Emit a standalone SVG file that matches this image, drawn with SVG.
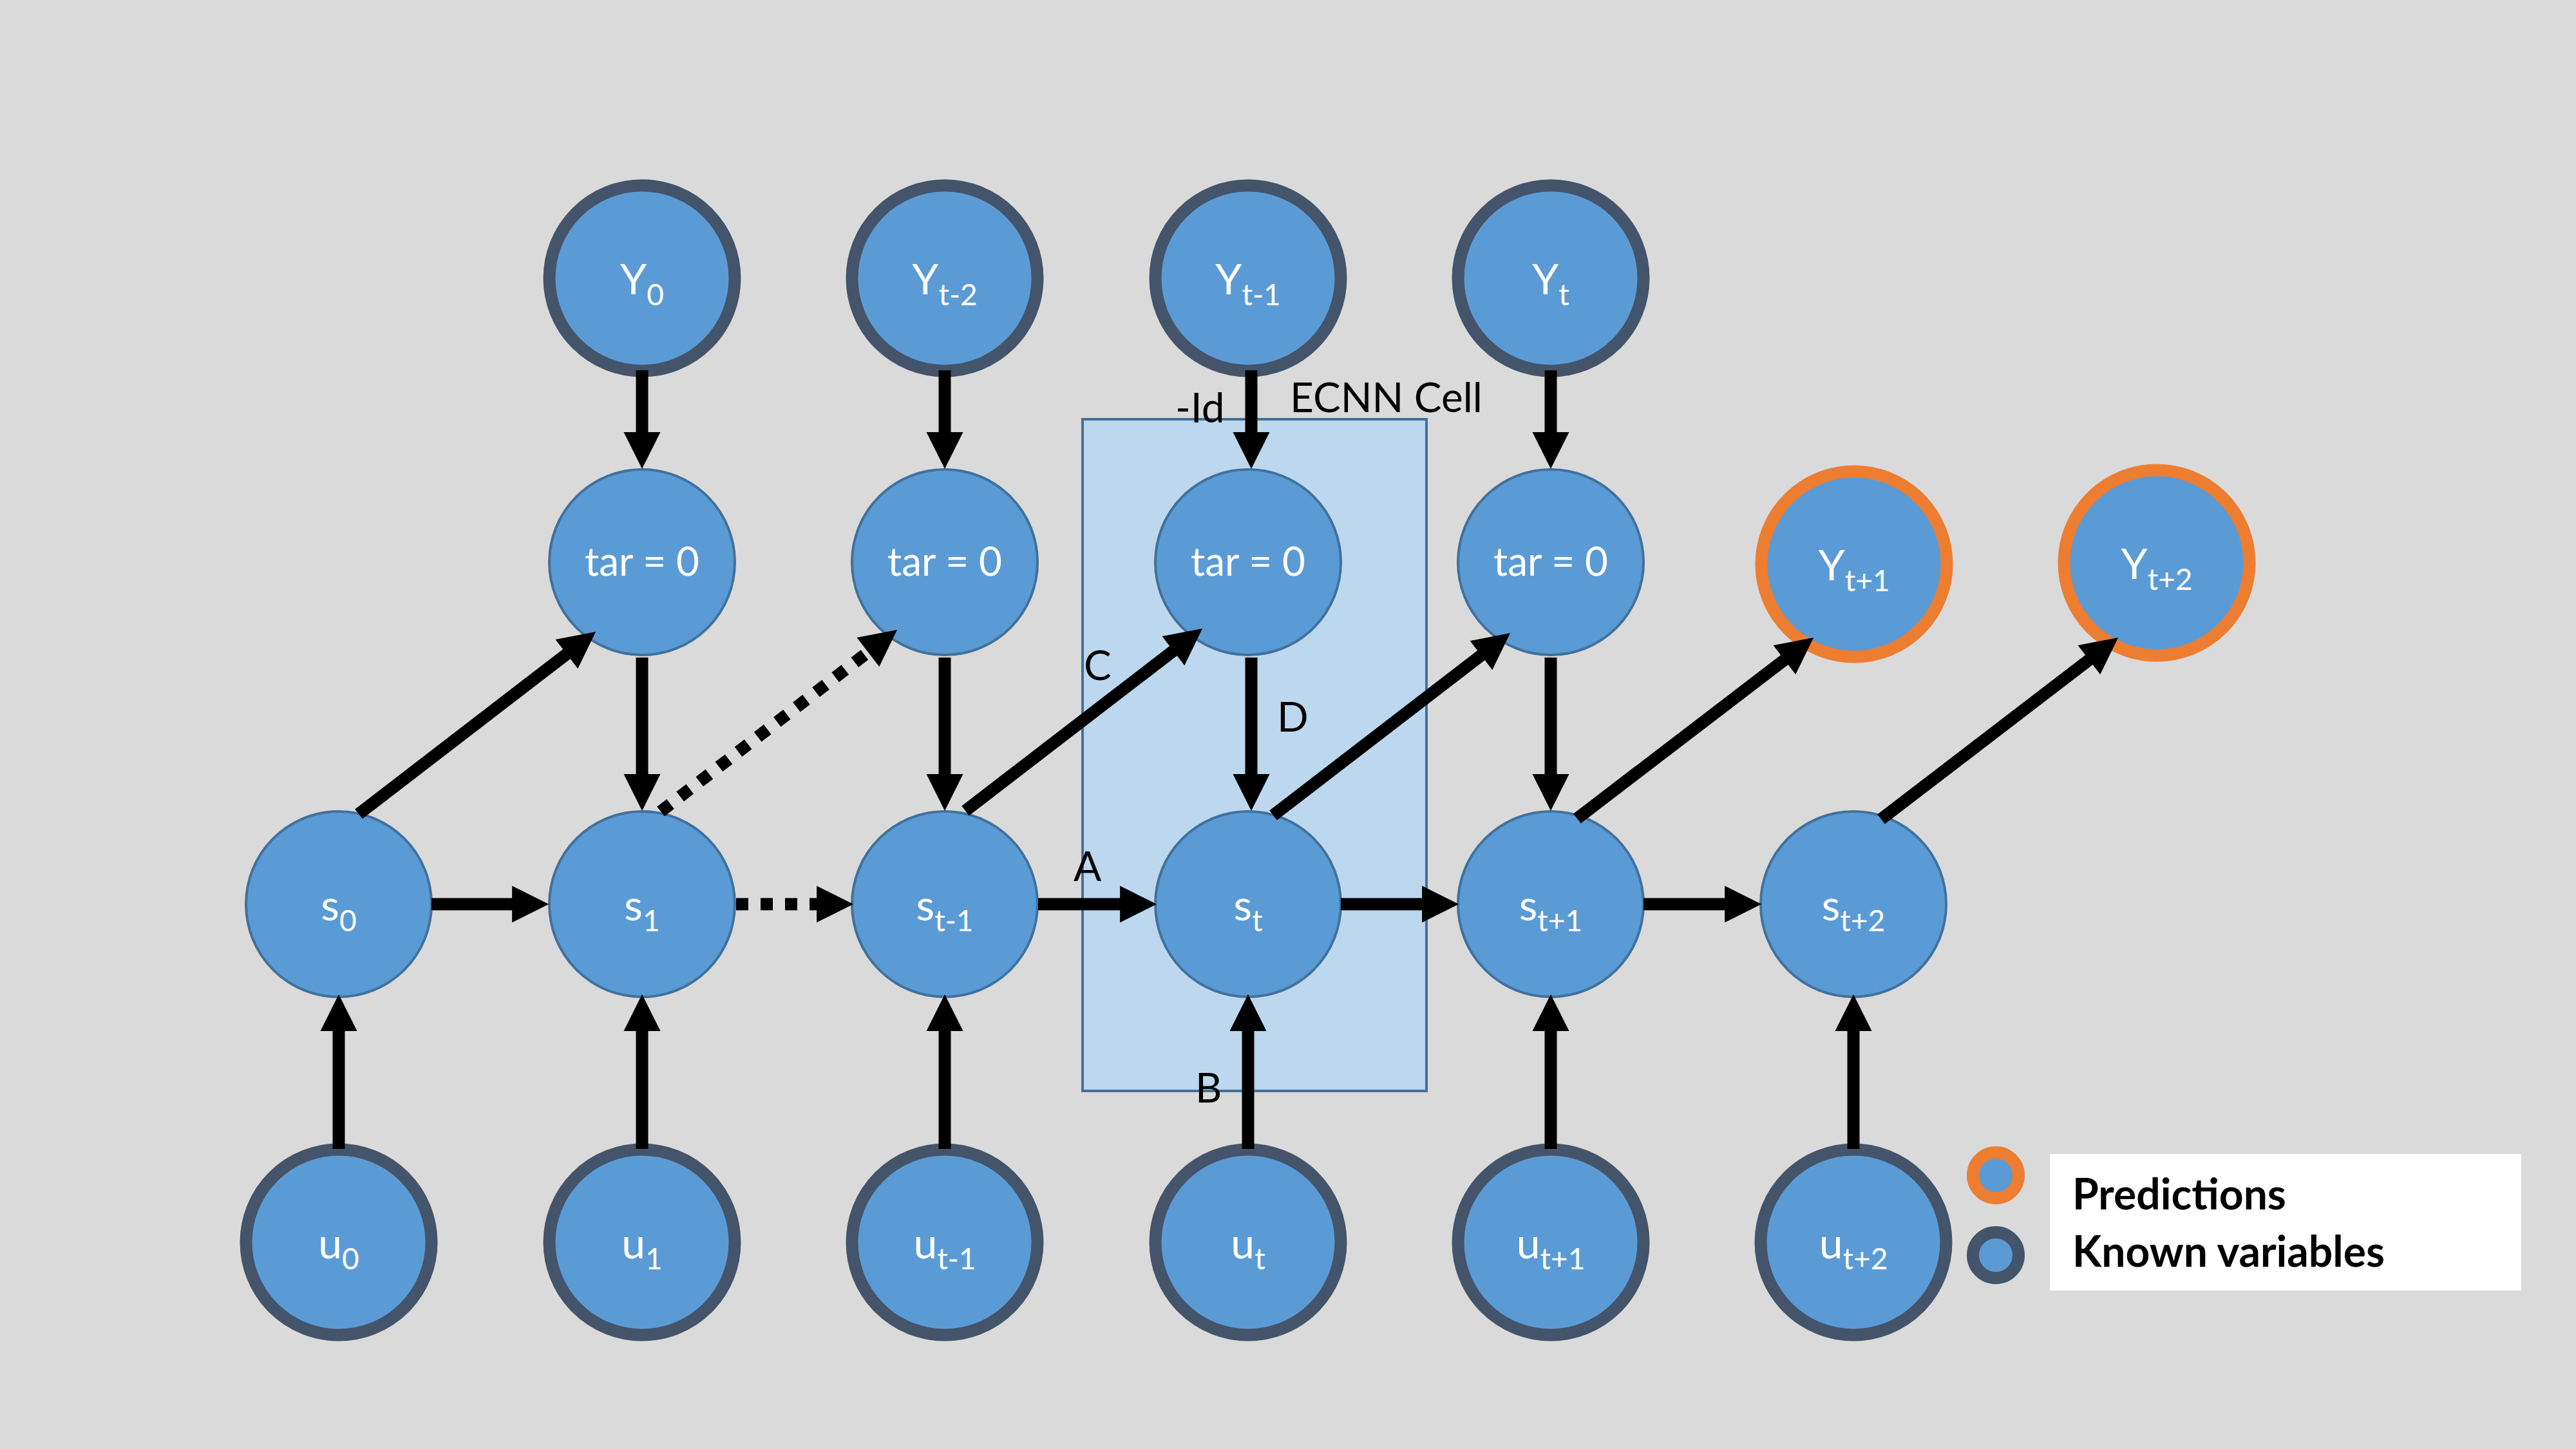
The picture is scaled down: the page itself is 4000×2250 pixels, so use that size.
<svg xmlns="http://www.w3.org/2000/svg" width="4000" height="2250" viewBox="0 0 4000 2250">
<defs>
<style>
.bg{fill:#DADADA}
.n{fill:#5B9BD5;stroke:#41719C;stroke-width:4}
.k{fill:#5B9BD5;stroke:#44546A;stroke-width:19}
.p{fill:#5B9BD5;stroke:#ED7D31;stroke-width:19}
.lbl{font-family:Lato,"Noto Sans","DejaVu Sans",sans-serif;font-size:66px;fill:#FFFFFF;text-anchor:middle}
.sub{font-size:46px}
.tar{font-family:Lato,"Noto Sans","DejaVu Sans",sans-serif;font-size:62px;fill:#FFFFFF;text-anchor:middle}
.ann{font-family:Lato,"Noto Sans","DejaVu Sans",sans-serif;font-size:64px;fill:#000000}
.leg{font-family:Lato,"Noto Sans","DejaVu Sans",sans-serif;font-size:66px;font-weight:bold;fill:#000000}
.c{stroke:#000000;stroke-width:19;fill:none;stroke-linecap:butt;marker-end:url(#ah)}
.d{stroke-dasharray:19 19}
</style>
<marker id="ah" markerUnits="strokeWidth" markerWidth="3" markerHeight="3" refX="0.1" refY="1.5" orient="auto" overflow="visible">
<path d="M0,0 L3,1.5 L0,3 Z" fill="#000000"/>
</marker>
</defs>
<rect class="bg" x="0" y="0" width="4000" height="2250"/>

<g id="ecnn-cell">
<rect x="1681" y="651" width="534" height="1043" fill="#BDD7EE" stroke="#41719C" stroke-width="4"/>
</g>

<g id="Y0"><circle class="k" cx="997" cy="432" r="144"/><text class="lbl" x="997" y="457">Y<tspan class="sub" dy="17">0</tspan></text></g>
<g id="Yt-2"><circle class="k" cx="1467" cy="432" r="144"/><text class="lbl" x="1467" y="457">Y<tspan class="sub" dy="17">t-2</tspan></text></g>
<g id="Yt-1"><circle class="k" cx="1938" cy="432" r="144"/><text class="lbl" x="1938" y="457">Y<tspan class="sub" dy="17">t-1</tspan></text></g>
<g id="Yt"><circle class="k" cx="2408" cy="432" r="144"/><text class="lbl" x="2408" y="457">Y<tspan class="sub" dy="17">t</tspan></text></g>

<g id="tar0"><circle class="n" cx="997" cy="873" r="144"/><text class="tar" x="997" y="894">tar = 0</text></g>
<g id="tar1"><circle class="n" cx="1467" cy="873" r="144"/><text class="tar" x="1467" y="894">tar = 0</text></g>
<g id="tar2"><circle class="n" cx="1938" cy="873" r="144"/><text class="tar" x="1938" y="894">tar = 0</text></g>
<g id="tar3"><circle class="n" cx="2408" cy="873" r="144"/><text class="tar" x="2408" y="894">tar = 0</text></g>
<g id="Yt+1"><circle class="p" cx="2879" cy="876" r="144"/><text class="lbl" x="2879" y="901">Y<tspan class="sub" dy="17">t+1</tspan></text></g>
<g id="Yt+2"><circle class="p" cx="3349" cy="874" r="144"/><text class="lbl" x="3349" y="899">Y<tspan class="sub" dy="17">t+2</tspan></text></g>

<g id="s0"><circle class="n" cx="526" cy="1404" r="144"/><text class="lbl" x="526" y="1429">s<tspan class="sub" dy="17">0</tspan></text></g>
<g id="s1"><circle class="n" cx="997" cy="1404" r="144"/><text class="lbl" x="997" y="1429">s<tspan class="sub" dy="17">1</tspan></text></g>
<g id="st-1"><circle class="n" cx="1467" cy="1404" r="144"/><text class="lbl" x="1467" y="1429">s<tspan class="sub" dy="17">t-1</tspan></text></g>
<g id="st"><circle class="n" cx="1938" cy="1404" r="144"/><text class="lbl" x="1938" y="1429">s<tspan class="sub" dy="17">t</tspan></text></g>
<g id="st+1"><circle class="n" cx="2408" cy="1404" r="144"/><text class="lbl" x="2408" y="1429">s<tspan class="sub" dy="17">t+1</tspan></text></g>
<g id="st+2"><circle class="n" cx="2878" cy="1404" r="144"/><text class="lbl" x="2878" y="1429">s<tspan class="sub" dy="17">t+2</tspan></text></g>

<g id="u0"><circle class="k" cx="526" cy="1929" r="144"/><text class="lbl" x="526" y="1954">u<tspan class="sub" dy="17">0</tspan></text></g>
<g id="u1"><circle class="k" cx="997" cy="1929" r="144"/><text class="lbl" x="997" y="1954">u<tspan class="sub" dy="17">1</tspan></text></g>
<g id="ut-1"><circle class="k" cx="1467" cy="1929" r="144"/><text class="lbl" x="1467" y="1954">u<tspan class="sub" dy="17">t-1</tspan></text></g>
<g id="ut"><circle class="k" cx="1938" cy="1929" r="144"/><text class="lbl" x="1938" y="1954">u<tspan class="sub" dy="17">t</tspan></text></g>
<g id="ut+1"><circle class="k" cx="2408" cy="1929" r="144"/><text class="lbl" x="2408" y="1954">u<tspan class="sub" dy="17">t+1</tspan></text></g>
<g id="ut+2"><circle class="k" cx="2878" cy="1929" r="144"/><text class="lbl" x="2878" y="1954">u<tspan class="sub" dy="17">t+2</tspan></text></g>

<g id="connectors">
<line class="c" x1="997" y1="575" x2="997" y2="673"/>
<line class="c" x1="1467" y1="575" x2="1467" y2="673"/>
<line class="c" x1="1943" y1="575" x2="1943" y2="673"/>
<line class="c" x1="2408" y1="575" x2="2408" y2="673"/>
<line class="c" x1="997" y1="1021" x2="997" y2="1204"/>
<line class="c" x1="1467" y1="1021" x2="1467" y2="1204"/>
<line class="c" x1="1943" y1="1021" x2="1943" y2="1204"/>
<line class="c" x1="2408" y1="1021" x2="2408" y2="1204"/>
<line class="c" x1="526" y1="1784" x2="526" y2="1599"/>
<line class="c" x1="997" y1="1784" x2="997" y2="1599"/>
<line class="c" x1="1467" y1="1784" x2="1467" y2="1599"/>
<line class="c" x1="1938" y1="1784" x2="1938" y2="1599"/>
<line class="c" x1="2408" y1="1784" x2="2408" y2="1599"/>
<line class="c" x1="2878" y1="1784" x2="2878" y2="1599"/>
<line class="c" x1="670" y1="1404" x2="797" y2="1404"/>
<line class="c d" x1="1143" y1="1404" x2="1270" y2="1404"/>
<line class="c" x1="1612" y1="1404" x2="1741" y2="1404"/>
<line class="c" x1="2082" y1="1404" x2="2210" y2="1404"/>
<line class="c" x1="2552" y1="1404" x2="2680" y2="1404"/>
<line class="c" x1="557" y1="1264" x2="881.4" y2="1014.5"/>
<line class="c d" x1="1026" y1="1260" x2="1349.4" y2="1011.5"/>
<line class="c" x1="1499" y1="1259" x2="1823.4" y2="1009.5"/>
<line class="c" x1="1977" y1="1266" x2="2301.4" y2="1016.5"/>
<line class="c" x1="2449" y1="1271" x2="2772.4" y2="1023.5"/>
<line class="c" x1="2921" y1="1272" x2="3245.4" y2="1023.5"/>
</g>

<g id="annotations">
<text class="ann" x="1825" y="656">-Id</text>
<text class="ann" x="2003" y="640">ECNN Cell</text>
<text class="ann" x="1667" y="1368">A</text>
<text class="ann" x="1856" y="1712">B</text>
<text class="ann" x="1683" y="1056">C</text>
<text class="ann" x="1983" y="1136">D</text>
</g>

<g id="legend">
<rect x="3183" y="1792" width="732" height="212" fill="#FFFFFF"/>
<circle class="p" cx="3099" cy="1825" r="35.5"/>
<circle class="k" cx="3099" cy="1949" r="35.5"/>
<text class="leg" x="3218" y="1878">Predictions</text>
<text class="leg" x="3218" y="1967">Known variables</text>
</g>
</svg>
